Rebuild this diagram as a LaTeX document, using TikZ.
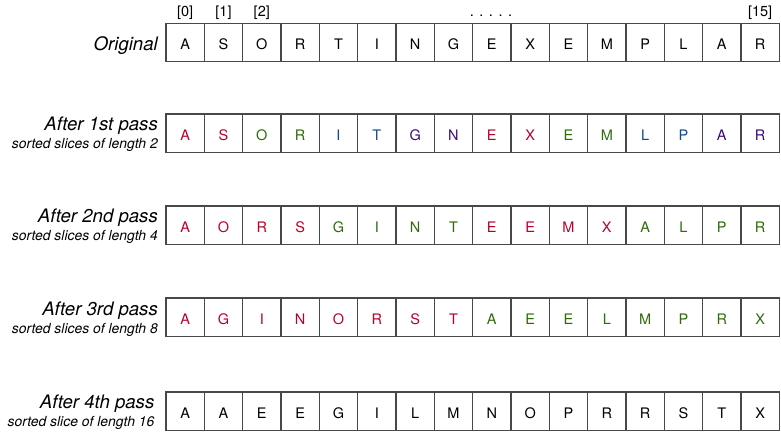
\documentclass[tikz,border=0pt]{standalone}
\usepackage{fontspec}
\setmainfont{TeX Gyre Heros}

\definecolor{sred}{RGB}{185,0,42}
\definecolor{sgreen}{RGB}{45,108,8}
\definecolor{sblue}{RGB}{18,72,140}
\definecolor{spurple}{RGB}{58,10,118}
\definecolor{cellgray}{RGB}{72,72,72}

\begin{document}
\begin{tikzpicture}[x=1bp, y=-1bp]
		\tikzstyle{every node}=[inner sep=0pt]
		\tikzstyle{cell}=[draw=cellgray, line width=1.3bp, minimum width=38.33bp, minimum height=38.4bp,
			text height=14.4bp, text depth=0pt, font=\fontsize{14.5bp}{16bp}\selectfont]
		\tikzstyle{title}=[anchor=base east, font=\fontsize{18.6bp}{20bp}\selectfont\itshape]
		\tikzstyle{sub}=[anchor=base east, font=\fontsize{13.9bp}{15bp}\selectfont\itshape]
		\tikzstyle{index}=[anchor=base, font=\fontsize{14.5bp}{16bp}\selectfont]
		\useasboundingbox (0,0) rectangle (781,432);

		% indices
		\node[index] (i0) at (185.2, 16.5) {[0]};
		\node[index] (i1) at (223.5, 16.5) {[1]};
		\node[index] (i2) at (261.8, 16.5) {[2]};
		\node[index] (dots) at (491, 16.5) {.\hspace{5.5bp}.\hspace{5.5bp}.\hspace{5.5bp}.\hspace{5.5bp}.};
		\node[index] (i15) at (760.1, 16.5) {[15]};

		% original
		\node[title] (l0) at (158, 50) {Original};
		\foreach \ch [count=\i from 0] in {A,S,O,R,T,I,N,G,E,X,E,M,P,L,A,R}
			\node[cell] (o\i) at ({166+38.33*(\i+0.5)}, 42.5) {\ch};

		% after 1st pass
		\node[title] (l1) at (158, 130.5) {After 1st pass};
		\node[sub] (s1) at (158, 148.5) {sorted slices of length 2};
		\foreach \ch/\c [count=\i from 0] in {A/sred,S/sred,O/sgreen,R/sgreen,I/sblue,T/sblue,G/spurple,N/spurple,
				E/sred,X/sred,E/sgreen,M/sgreen,L/sblue,P/sblue,A/spurple,R/spurple}
			\node[cell, text=\c] (a\i) at ({166+38.33*(\i+0.5)}, 133.2) {\ch};

		% after 2nd pass
		\node[title] (l2) at (158, 222.5) {After 2nd pass};
		\node[sub] (s2) at (158, 240.5) {sorted slices of length 4};
		\foreach \ch/\c [count=\i from 0] in {A/sred,O/sred,R/sred,S/sred,G/sgreen,I/sgreen,N/sgreen,T/sgreen,
				E/sred,E/sred,M/sred,X/sred,A/sgreen,L/sgreen,P/sgreen,R/sgreen}
			\node[cell, text=\c] (b\i) at ({166+38.33*(\i+0.5)}, 225.2) {\ch};

		% after 3rd pass
		\node[title] (l3) at (158, 315.5) {After 3rd pass};
		\node[sub] (s3) at (158, 333) {sorted slices of length 8};
		\foreach \ch/\c [count=\i from 0] in {A/sred,G/sred,I/sred,N/sred,O/sred,R/sred,S/sred,T/sred,
				A/sgreen,E/sgreen,E/sgreen,L/sgreen,M/sgreen,P/sgreen,R/sgreen,X/sgreen}
			\node[cell, text=\c] (c\i) at ({166+38.33*(\i+0.5)}, 317.2) {\ch};

		% after 4th pass
		\node[title] (l4) at (154.5, 408.5) {After 4th pass};
		\node[sub] (s4) at (154.5, 426) {sorted slice of length 16};
		\foreach \ch [count=\i from 0] in {A,A,E,E,G,I,L,M,N,O,P,R,R,S,T,X}
			\node[cell] (d\i) at ({166+38.33*(\i+0.5)}, 411.2) {\ch};
\end{tikzpicture}
\end{document}
